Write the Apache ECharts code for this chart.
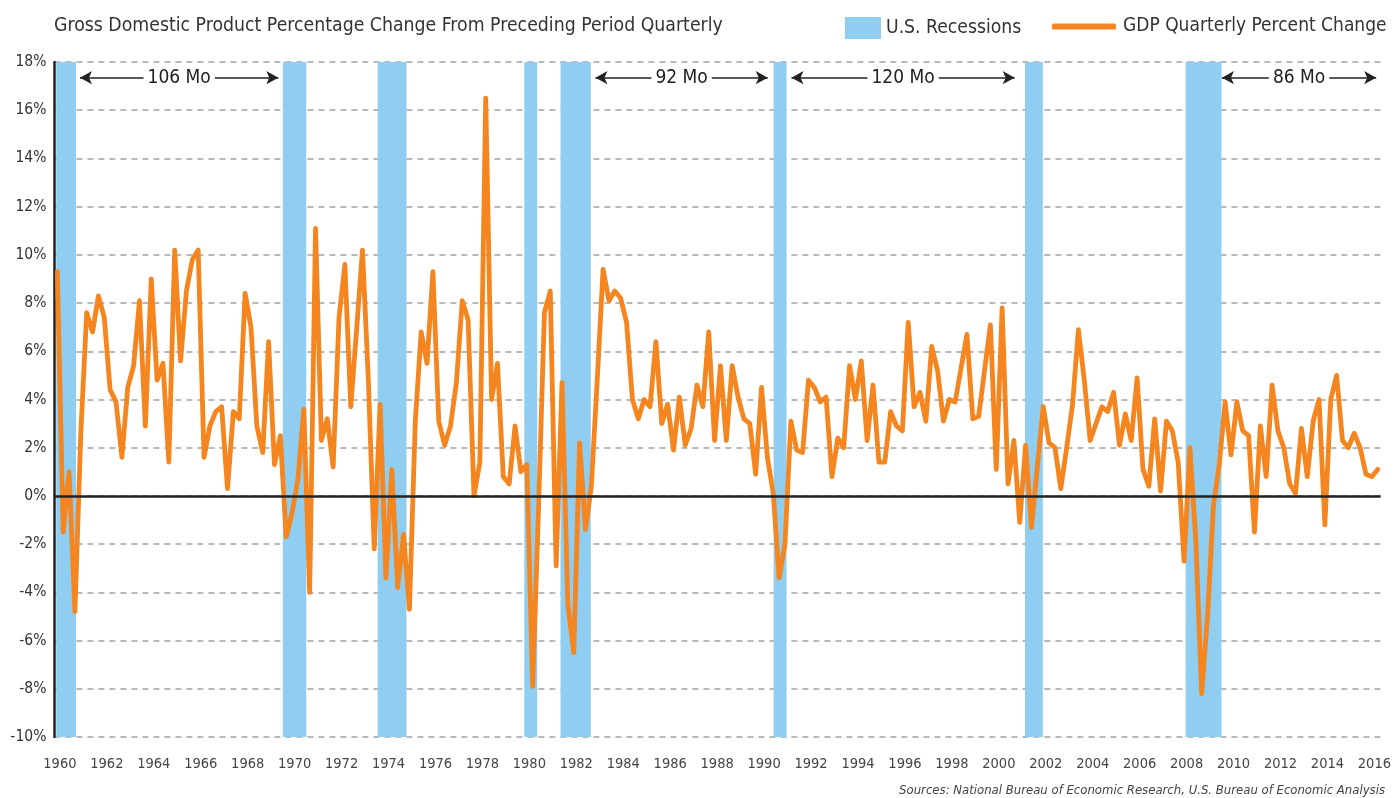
<!DOCTYPE html>
<html>
<head>
<meta charset="utf-8">
<title>GDP Quarterly Percent Change</title>
<script src="https://cdn.jsdelivr.net/npm/echarts@6/dist/echarts.min.js"></script>
<style>
  html, body { margin: 0; padding: 0; background: #fff; }
  #chart { width: 1394px; height: 798px; }
</style>
</head>
<body>
<div id="chart"></div>
<script>
// real GDP, percent change from preceding quarter (annualized), 1960 Q1 .. 2016 Q2
var startYear = 1960
var gdpChange = [
  9.3, -1.5, 1.0, -4.8, // 1960
  2.6, 7.6, 6.8, 8.3, // 1961
  7.4, 4.4, 3.9, 1.6, // 1962
  4.5, 5.4, 8.1, 2.9, // 1963
  9.0, 4.8, 5.5, 1.4, // 1964
  10.2, 5.6, 8.5, 9.8, // 1965
  10.2, 1.6, 2.9, 3.5, // 1966
  3.7, 0.3, 3.5, 3.2, // 1967
  8.4, 7.0, 2.9, 1.8, // 1968
  6.4, 1.3, 2.5, -1.7, // 1969
  -0.7, 0.7, 3.6, -4.0, // 1970
  11.1, 2.3, 3.2, 1.2, // 1971
  7.4, 9.6, 3.7, 6.9, // 1972
  10.2, 4.8, -2.2, 3.8, // 1973
  -3.4, 1.1, -3.8, -1.6, // 1974
  -4.7, 3.1, 6.8, 5.5, // 1975
  9.3, 3.1, 2.1, 2.9, // 1976
  4.7, 8.1, 7.3, 0.0, // 1977
  1.4, 16.5, 4.0, 5.5, // 1978
  0.8, 0.5, 2.9, 1.0, // 1979
  1.3, -7.9, -0.5, 7.6, // 1980
  8.5, -2.9, 4.7, -4.5, // 1981
  -6.5, 2.2, -1.4, 0.4, // 1982
  4.8, 9.4, 8.1, 8.5, // 1983
  8.2, 7.2, 4.0, 3.2, // 1984
  4.0, 3.7, 6.4, 3.0, // 1985
  3.8, 1.9, 4.1, 2.1, // 1986
  2.8, 4.6, 3.7, 6.8, // 1987
  2.3, 5.4, 2.3, 5.4, // 1988
  4.1, 3.2, 3.0, 0.9, // 1989
  4.5, 1.6, 0.1, -3.4, // 1990
  -2.0, 3.1, 1.9, 1.8, // 1991
  4.8, 4.5, 3.9, 4.1, // 1992
  0.8, 2.4, 2.0, 5.4, // 1993
  4.0, 5.6, 2.3, 4.6, // 1994
  1.4, 1.4, 3.5, 2.9, // 1995
  2.7, 7.2, 3.7, 4.3, // 1996
  3.1, 6.2, 5.2, 3.1, // 1997
  4.0, 3.9, 5.3, 6.7, // 1998
  3.2, 3.3, 5.2, 7.1, // 1999
  1.1, 7.8, 0.5, 2.3, // 2000
  -1.1, 2.1, -1.3, 1.2, // 2001
  3.7, 2.2, 2.0, 0.3, // 2002
  2.0, 3.8, 6.9, 4.8, // 2003
  2.3, 3.0, 3.7, 3.5, // 2004
  4.3, 2.1, 3.4, 2.3, // 2005
  4.9, 1.1, 0.4, 3.2, // 2006
  0.2, 3.1, 2.7, 1.4, // 2007
  -2.7, 2.0, -1.8, -8.2, // 2008
  -5.0, -0.4, 1.3, 3.9, // 2009
  1.7, 3.9, 2.7, 2.5, // 2010
  -1.5, 2.9, 0.8, 4.6, // 2011
  2.7, 2.0, 0.5, 0.1, // 2012
  2.8, 0.8, 3.1, 4.0, // 2013
  -1.2, 4.0, 5.0, 2.3, // 2014
  2.0, 2.6, 2.0, 0.9, // 2015
  0.8, 1.1 // 2016
]

// shaded recession periods, decimal years as drawn
var recessionStart = [1960.08, 1969.73, 1973.77, 1980.02, 1981.56, 1990.64, 2001.35, 2008.19]
var recessionEnd = [1960.92, 1970.73, 1975.00, 1980.57, 1982.85, 1991.19, 2002.11, 2009.72]

// expansion length annotations
var expansionLabels = ['106 Mo', '92 Mo', '120 Mo', '86 Mo']
var expansionStart = [1961.09, 1983.05, 1991.40, 2009.74]
var expansionEnd = [1969.54, 1990.39, 2000.91, 2016.31]
var expansionLevel = 17.35

var FONT = "'Liberation Sans Narrow', 'DejaVu Sans Condensed', 'Roboto Condensed', 'Liberation Sans', sans-serif"

var points = []
for (var i = 0; i < gdpChange.length; i++) {
  // each quarter plotted at its middle
  points.push([startYear + i / 4 + 0.125, gdpChange[i]])
}

var bands = []
for (var r = 0; r < recessionStart.length; r++) {
  bands.push([{ xAxis: recessionStart[r] }, { xAxis: recessionEnd[r] }])
}

var arrows = []
for (var k = 0; k < expansionLabels.length; k++) {
  arrows.push([
    { name: expansionLabels[k], coord: [expansionStart[k], expansionLevel] },
    { coord: [expansionEnd[k], expansionLevel] }
  ])
}

var chart = echarts.init(document.getElementById('chart'))
var option = {
  animation: false,
  textStyle: { fontFamily: FONT },
  title: {
    text: 'Gross Domestic Product Percentage Change From Preceding Period Quarterly',
    left: 49,
    top: 11,
    textStyle: { fontFamily: FONT, fontSize: 19.3, fontWeight: 'normal', color: '#333' }
  },
  legend: [
    {
      data: [{ name: 'U.S. Recessions', icon: 'rect' }],
      left: 840,
      top: 12,
      itemWidth: 36,
      itemHeight: 22,
      textStyle: { fontFamily: FONT, fontSize: 19.2, color: '#333' }
    },
    {
      data: [{ name: 'GDP Quarterly Percent Change', icon: 'roundRect' }],
      left: 1047,
      top: 12,
      itemWidth: 64,
      itemHeight: 6,
      textStyle: { fontFamily: FONT, fontSize: 19.0, color: '#333', padding: [0, 0, 0, 2] }
    }
  ],
  grid: { left: 54.4, right: 9, top: 62, bottom: 61, containLabel: false },
  xAxis: {
    type: 'value',
    min: 1960,
    max: 2016.5,
    interval: 2,
    axisLine: { show: false },
    axisTick: { show: false },
    splitLine: { show: false },
    axisLabel: {
      margin: 20,
      fontSize: 14.5,
      color: '#444',
      fontFamily: FONT,
      padding: [0, 0, 0, 11],
      formatter: function (v) {
        return v % 2 === 0 ? String(v) : ''
      }
    }
  },
  yAxis: {
    type: 'value',
    min: -10,
    max: 18,
    interval: 2,
    axisLine: { show: true, lineStyle: { color: '#222', width: 2.5 } },
    axisTick: { show: false },
    axisLabel: { formatter: '{value}%', fontSize: 15.5, color: '#333', margin: 8, fontFamily: FONT },
    splitLine: { lineStyle: { color: '#a3a3a3', width: 1.5, type: [6, 5] } }
  },
  series: [
    {
      name: 'U.S. Recessions',
      type: 'line',
      data: [],
      color: '#8FCEF0',
      z: 1,
      markArea: {
        silent: true,
        itemStyle: { color: '#8FCEF0', opacity: 1 },
        data: bands
      }
    },
    {
      name: 'zero',
      type: 'line',
      data: [],
      z: 2,
      markLine: {
        silent: true,
        symbol: ['none', 'none'],
        label: { show: false },
        lineStyle: { color: '#222', width: 2.5, type: 'solid' },
        data: [{ yAxis: 0 }]
      }
    },
    {
      name: 'annotations',
      type: 'line',
      data: [],
      z: 2,
      markLine: {
        silent: true,
        symbol: ['arrow', 'arrow'],
        symbolSize: [10, 12],
        lineStyle: { color: '#222', width: 1.5, type: 'solid' },
        label: {
          show: true,
          position: 'middle',
          distance: -10,
          formatter: '{b}',
          fontFamily: FONT,
          fontSize: 19,
          color: '#222',
          backgroundColor: '#fff',
          padding: [0, 4]
        },
        data: arrows
      }
    },
    {
      name: 'GDP Quarterly Percent Change',
      type: 'line',
      data: points,
      color: '#F5851F',
      z: 3,
      showSymbol: false,
      symbol: 'none',
      lineStyle: { color: '#F5851F', width: 4.8, join: 'round', cap: 'round' }
    }
  ],
  graphic: [
    {
      type: 'text',
      right: 9,
      top: 784,
      style: {
        text: 'Sources: National Bureau of Economic Research, U.S. Bureau of Economic Analysis',
        font: 'italic 13px ' + FONT,
        fill: '#444'
      }
    }
  ]
}
chart.setOption(option)
</script>
</body>
</html>
